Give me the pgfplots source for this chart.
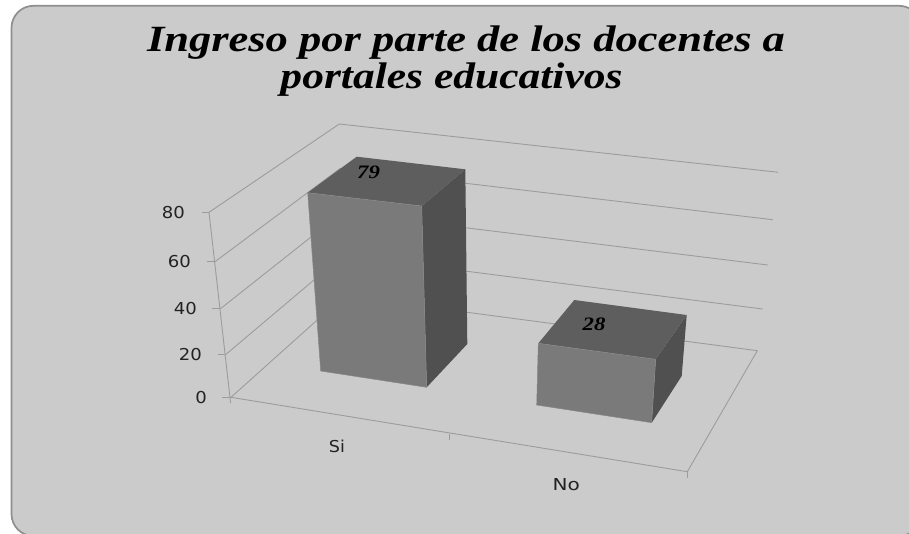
\documentclass[border=0pt]{standalone}
\usepackage{fontspec}
\setmainfont{Liberation Serif}
\newfontfamily\tickfont{DejaVu Sans}
\usepackage{pgfplots}
\pgfplotsset{compat=1.18}
\definecolor{bg}{HTML}{CBCBCB}
\definecolor{rim}{HTML}{8F8F8F}
\definecolor{gridc}{HTML}{9C9C9C}
\definecolor{front}{HTML}{7A7A7A}
\definecolor{topf}{HTML}{5E5E5E}
\definecolor{sidef}{HTML}{505050}
\definecolor{edgec}{HTML}{878787}
\definecolor{tickc}{HTML}{222222}
\begin{document}
\begin{tikzpicture}[x=1pt,y=1pt]
\begin{axis}[scale only axis,width=909pt,height=534pt,xmin=0,xmax=909,ymin=0,ymax=534,y dir=reverse,hide axis,clip=true]
\addplot[draw=none,fill=white,forget plot] coordinates {(0,0)(909,0)(909,534)(0,534)} --cycle;
\addplot[draw=rim,line width=1.7pt,fill=bg,rounded corners=22pt,forget plot] coordinates {(11.5,5.8)(921,5.8)(921,536)(11.5,536)} --cycle;
% y axis + ticks
\addplot[gridc,line width=0.9pt] coordinates {(209,212.3)(230.6,403)};
\addplot[gridc,line width=0.9pt] coordinates {(201.7,212.3)(209,212.3)};
\addplot[gridc,line width=0.9pt] coordinates {(207.3,261.7)(215,261.7)};
\addplot[gridc,line width=0.9pt] coordinates {(212.3,308.3)(221,308.3)};
\addplot[gridc,line width=0.9pt] coordinates {(217.7,354.3)(226,354.3)};
\addplot[gridc,line width=0.9pt] coordinates {(222.3,397.3)(231,397.3)};
% side wall gridlines and back wall gridlines
\addplot[gridc,line width=0.9pt] coordinates {(209,212.3)(339.3,124)(778.3,172.3)};
\addplot[gridc,line width=0.9pt] coordinates {(215,261.7)(340.2,168.4)(772.7,219.7)};
\addplot[gridc,line width=0.9pt] coordinates {(221,308.3)(342,212.5)(767.7,265)};
\addplot[gridc,line width=0.9pt] coordinates {(226,354.3)(343,255.5)(762.7,309)};
\addplot[gridc,line width=0.9pt] coordinates {(231,397.3)(344,296)(757.3,350.7)};
% floor
\addplot[gridc,line width=0.9pt] coordinates {(231,397.3)(687.3,471.7)(757.3,350.7)};
\addplot[gridc,line width=0.9pt] coordinates {(449,434)(449,439.5)};
\addplot[gridc,line width=0.9pt] coordinates {(687.3,471.7)(687.3,477.7)};
% bar Si = 79
\addplot[draw=none,fill=sidef] coordinates {(421.7,206)(465.3,169.3)(467.3,344)(426.7,387.3)} --cycle;
\addplot[draw=none,fill=topf] coordinates {(307.7,192.7)(356.7,156.7)(465.3,169.3)(421.7,206)} --cycle;
\addplot[draw=edgec,line width=0.5pt,fill=front] coordinates {(307.7,192.7)(421.7,206)(426.7,387.3)(320.7,371)} --cycle;
% bar No = 28
\addplot[draw=none,fill=sidef] coordinates {(655.7,359.3)(686.7,315)(681.7,376)(651.7,422.7)} --cycle;
\addplot[draw=none,fill=topf] coordinates {(538.3,343.3)(574.3,300)(686.7,315)(655.7,359.3)} --cycle;
\addplot[draw=edgec,line width=0.5pt,fill=front] coordinates {(538.3,343.3)(655.7,359.3)(651.7,422.7)(536.7,405)} --cycle;
% texts
\node[anchor=base,inner sep=0pt] at (axis cs:466,51.7) {\scalebox{1.203}[1]{\fontsize{37}{37}\selectfont\bfseries\itshape Ingreso por parte de los docentes a}};
\node[anchor=base,inner sep=0pt] at (axis cs:451.5,89) {\scalebox{1.176}[1]{\fontsize{37}{37}\selectfont\bfseries\itshape portales educativos}};
\node[inner sep=0pt] at (axis cs:368.5,172.5) {\scalebox{1.2}[1]{\fontsize{19}{19}\selectfont\bfseries\itshape 79}};
\node[inner sep=0pt] at (axis cs:594,324.5) {\scalebox{1.2}[1]{\fontsize{19}{19}\selectfont\bfseries\itshape 28}};
\node[anchor=east,inner sep=0pt,text=tickc] at (axis cs:185,212.5) {\scalebox{1.1}[1]{\fontsize{16.4}{16.4}\selectfont\tickfont 80}};
\node[anchor=east,inner sep=0pt,text=tickc] at (axis cs:191,262) {\scalebox{1.1}[1]{\fontsize{16.4}{16.4}\selectfont\tickfont 60}};
\node[anchor=east,inner sep=0pt,text=tickc] at (axis cs:197,309) {\scalebox{1.1}[1]{\fontsize{16.4}{16.4}\selectfont\tickfont 40}};
\node[anchor=east,inner sep=0pt,text=tickc] at (axis cs:202,355) {\scalebox{1.1}[1]{\fontsize{16.4}{16.4}\selectfont\tickfont 20}};
\node[anchor=east,inner sep=0pt,text=tickc] at (axis cs:207,398) {\scalebox{1.1}[1]{\fontsize{16.4}{16.4}\selectfont\tickfont 0}};
\node[inner sep=0pt,text=tickc] at (axis cs:337,446) {\scalebox{1.07}[1]{\fontsize{16.4}{16.4}\selectfont\tickfont Si}};
\node[inner sep=0pt,text=tickc] at (axis cs:566.3,484.3) {\scalebox{1.22}[1]{\fontsize{16.4}{16.4}\selectfont\tickfont No}};
\end{axis}
\end{tikzpicture}
\end{document}
